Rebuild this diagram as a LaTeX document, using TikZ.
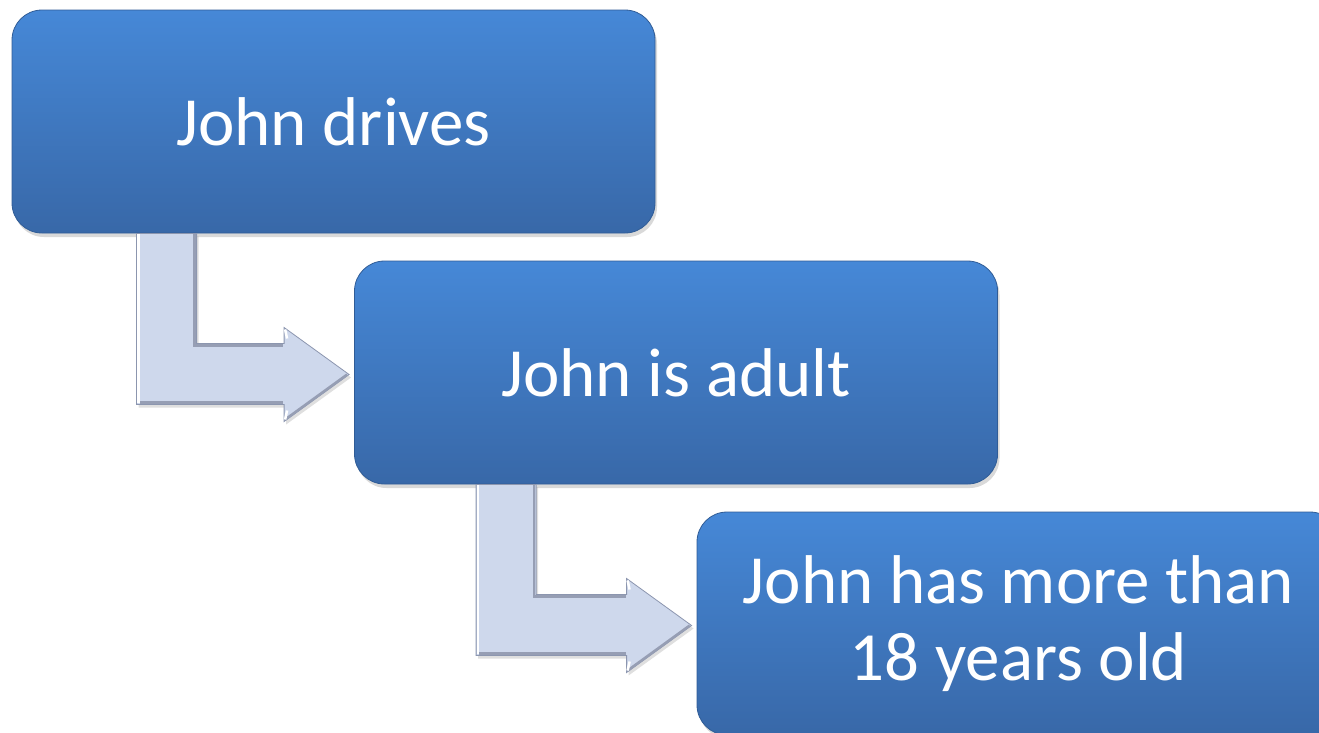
\documentclass[tikz,border=0pt]{standalone}
\usepackage{fontspec}
\setmainfont{Carlito}
\usetikzlibrary{calc,shadows}
\definecolor{boxtop}{RGB}{70,136,215}
\definecolor{boxbot}{RGB}{56,104,168}
\definecolor{boxline}{RGB}{48,92,150}
\definecolor{arrowface}{RGB}{206,216,236}
\definecolor{arrowedge}{RGB}{140,150,175}
\definecolor{arrowdark}{RGB}{150,158,180}
\begin{document}
\begin{tikzpicture}[x=1pt,y=-1pt,
  stepbox/.style={rounded corners=30pt, minimum width=643pt, minimum height=223pt,
    top color=boxtop, bottom color=boxbot, draw=boxline, line width=0.8pt,
    text=white, font=\fontsize{69}{77}\selectfont, align=center, inner sep=0pt,
    drop shadow={shadow xshift=2pt, shadow yshift=-4pt, opacity=0.3}},
  bentarrow/.style={fill=arrowface, draw=arrowedge, line width=0.8pt, line join=miter,
    drop shadow={shadow xshift=2pt, shadow yshift=-3pt, opacity=0.25}},
  bevel/.style={white, line width=2.5pt},
  groove/.style={arrowdark, line width=2.5pt}]
\useasboundingbox (0,0) rectangle (1319,732);

% the three statements
\node[stepbox] (b1) at (333.5,121.5) {John drives};
\node[stepbox] (b2) at (676,372.5) {John is adult};
\node[stepbox] (b3) at (1018.5,623.5) {John has more than\\18 years old};

% bent arrows: down out of one box, then right into the next
\coordinate (s1) at ($(b1.south west)+(125,0)$);
\coordinate (t1) at ($(b2.west)+(-5,2)$);
\coordinate (s2) at ($(b2.south west)+(122,0)$);
\coordinate (t2) at ($(b3.west)+(-5,2)$);

\foreach \s/\t in {s1/t1, s2/t2}{
  \draw[bentarrow] (\s) -- ++(60,0) |- ($(\t)+(-65,-31)$) -- ++(0,-16) -- (\t)
    -- ++(-65,47) -- ++(0,-17) -| (\s) -- cycle;
  % bevelled rims
  \draw[groove] ($(\s)+(58,1)$) |- ($(\t)+(-66,-29)$);
  \draw[groove] ($(\s |- \t)+(3,28)$) -- ($(\t)+(-66,28)$);
  \draw[groove] ($(\t)+(-64,45)$) -- ($(\t)+(-2,0)$);
  \draw[bevel] ($(\s)+(2,1)$) -- ($(\s |- \t)+(2,28)$);
  \draw[bevel] ($(\t)+(-64,-45)$) -- ($(\t)+(-62,-36)$);
  \draw[bevel] ($(\t)+(-64,45)$) -- ($(\t)+(-62,36)$);
}
\end{tikzpicture}
\end{document}
